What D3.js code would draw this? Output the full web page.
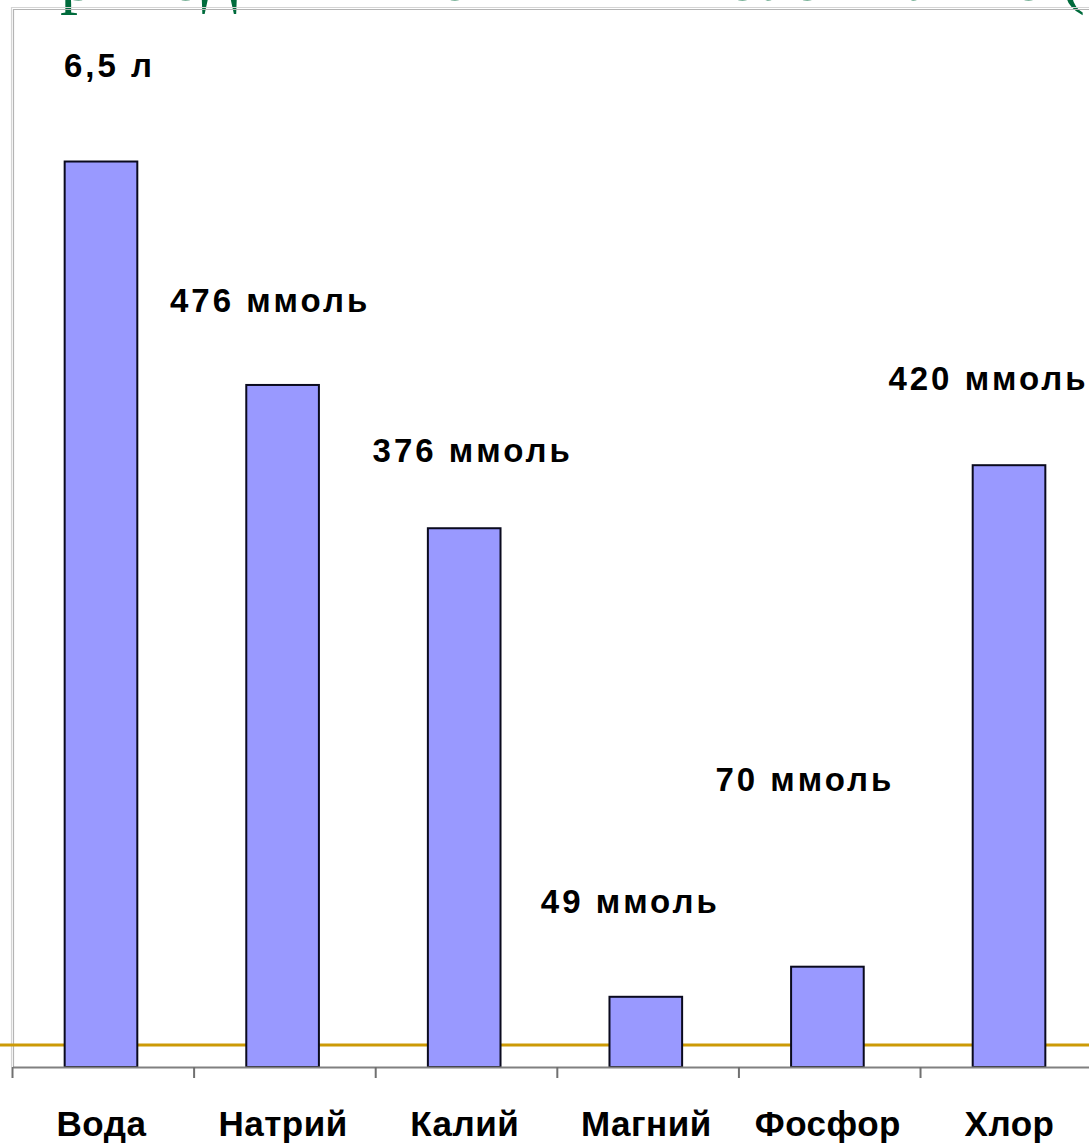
<!DOCTYPE html>
<html lang="ru">
<head>
<meta charset="utf-8">
<title>Приход в кишечник и всасывание</title>
<script src="https://cdn.jsdelivr.net/npm/d3@7/dist/d3.min.js"></script>
<style>
  html, body { margin: 0; padding: 0; background: #ffffff; }
  svg { display: block; }
</style>
</head>
<body>
<svg id="chart" width="1089" height="1143"></svg>
<script>
// Daily amounts of water and electrolytes
const categories = ["Вода", "Натрий", "Калий", "Магний", "Фосфор", "Хлор"];
const amounts    = [6.5, 476, 376, 49, 70, 420];
const units      = ["л", "ммоль", "ммоль", "ммоль", "ммоль", "ммоль"];
const titleText  = "Приход в кишечник и всасывание (в день)";

// Annotation placement relative to each bar (horizontal shift, lift above the bar top)
const labelShift = [8, -13, 8, -16, -23, -21];
const labelLift  = [85, 73, 66, 84, 176, 75];

const W = 1089, H = 1143;
const svg = d3.select("#chart");
svg.append("rect").attr("width", W).attr("height", H).attr("fill", "#ffffff");

const plot = { left: 12.5, right: 1098.5, top: 8, bottom: 1067 };

// Category scale: one band per substance
const x = d3.scaleBand()
  .domain(categories)
  .range([plot.left, plot.right])
  .paddingInner(0.6)
  .paddingOuter(0.29);

// Electrolytes in mmol, water in litres, sharing the same pixel span
const yMmol  = d3.scaleLinear().domain([0, 700]).range([plot.bottom, 64]);
const yLitre = d3.scaleLinear().domain([0, 7.2]).range([plot.bottom, 64]);
const yFor = i => (units[i] === "л" ? yLitre : yMmol);

// Slide heading, mostly cut off by the top edge
svg.append("text")
  .attr("x", 8)
  .attr("y", 0)
  .attr("font-family", "'Liberation Serif', 'DejaVu Serif', serif")
  .attr("font-size", 72)
  .attr("fill", "#006b3c")
  .text(titleText);

// Plot frame (top and left edges)
const frame = svg.append("g").attr("fill", "none");
frame.append("path")
  .attr("d", `M${W},7.5 H11.5 V${plot.bottom}`)
  .attr("stroke", "#d4d4d4").attr("stroke-width", 1.2);
frame.append("path")
  .attr("d", `M${W},9.5 H13.5 V${plot.bottom}`)
  .attr("stroke", "#b4b4b4").attr("stroke-width", 1.2);

// Golden reference line across the slide
svg.append("line")
  .attr("x1", 0).attr("x2", W)
  .attr("y1", 1045).attr("y2", 1045)
  .attr("stroke", "#cc9a06").attr("stroke-width", 3);

// Bars
svg.append("g")
  .selectAll("rect")
  .data(categories)
  .join("rect")
  .attr("x", d => x(d) - 0.5)
  .attr("y", (d, i) => yFor(i)(amounts[i]))
  .attr("width", x.bandwidth())
  .attr("height", (d, i) => plot.bottom - yFor(i)(amounts[i]))
  .attr("fill", "#9999ff")
  .attr("stroke", "#0a0a1e")
  .attr("stroke-width", 2);

// Category axis at the bottom
const axis = d3.axisBottom(x).tickSize(0).tickPadding(0).tickFormat("");
const gAxis = svg.append("g")
  .attr("transform", `translate(0,${plot.bottom})`)
  .call(axis);
gAxis.select(".domain").attr("stroke", "#808080").attr("stroke-width", 2);

// Tick marks between categories
const boundaries = d3.range(categories.length + 1).map(i => plot.left + i * x.step());
gAxis.selectAll("line.sep")
  .data(boundaries)
  .join("line")
  .attr("class", "sep")
  .attr("x1", d => d).attr("x2", d => d)
  .attr("y1", 0).attr("y2", 11)
  .attr("stroke", "#707070").attr("stroke-width", 2);

// Category names
svg.append("g")
  .selectAll("text")
  .data(categories)
  .join("text")
  .attr("x", d => x(d) + x.bandwidth() / 2)
  .attr("y", 1136)
  .attr("text-anchor", "middle")
  .attr("font-family", "'Liberation Sans', Arial, sans-serif")
  .attr("font-weight", "bold")
  .attr("font-size", 35)
  .attr("letter-spacing", 0.5)
  .attr("fill", "#000000")
  .text(d => d);

// Amount annotations above the bars
const fmt = v => (Number.isInteger(v) ? String(v) : String(v).replace(".", ","));
svg.append("g")
  .selectAll("text")
  .data(categories)
  .join("text")
  .attr("x", (d, i) => x(d) + x.bandwidth() / 2 + labelShift[i])
  .attr("y", (d, i) => yFor(i)(amounts[i]) - labelLift[i])
  .attr("text-anchor", "middle")
  .attr("font-family", "'Liberation Sans', Arial, sans-serif")
  .attr("font-weight", "bold")
  .attr("font-size", 33)
  .attr("letter-spacing", 3)
  .attr("fill", "#000000")
  .text((d, i) => `${fmt(amounts[i])} ${units[i]}`);
</script>
</body>
</html>
